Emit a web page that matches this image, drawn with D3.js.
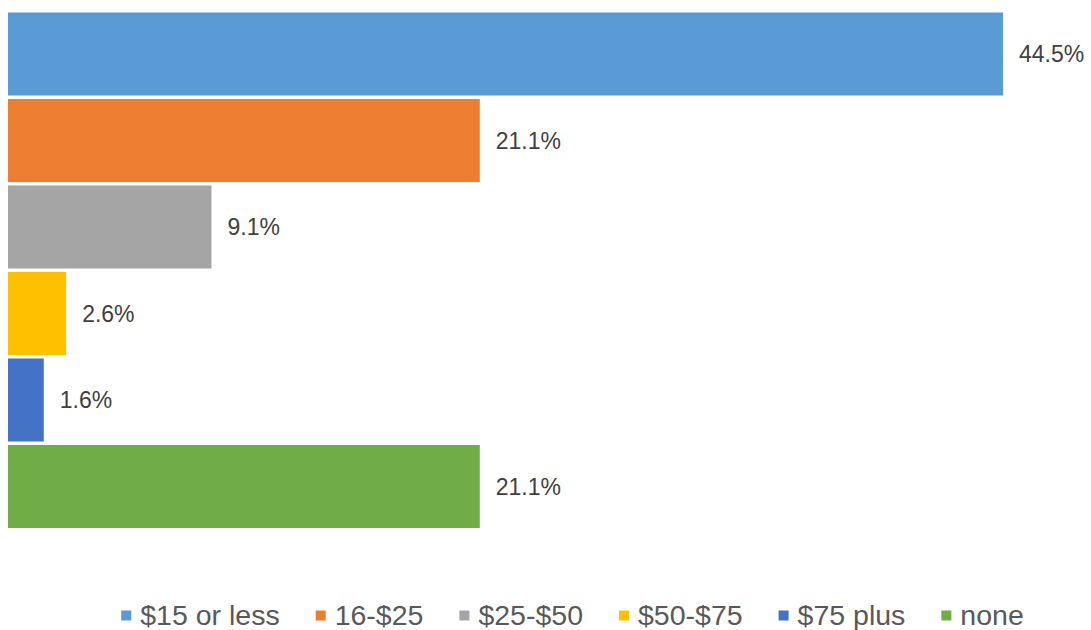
<!DOCTYPE html>
<html>
<head>
<meta charset="utf-8">
<script src="https://cdn.jsdelivr.net/npm/d3@7"></script>
<style>
html,body{margin:0;padding:0;background:#fff;}
svg{display:block;font-family:"Liberation Sans", Arial, Helvetica, sans-serif;}
</style>
</head>
<body>
<svg id="chart" width="1091" height="630"></svg>
<script>
const categories = ["$15 or less", "16-$25", "$25-$50", "$50-$75", "$75 plus", "none"];
const values = [44.5, 21.1, 9.1, 2.6, 1.6, 21.1];
const labels = ["44.5%", "21.1%", "9.1%", "2.6%", "1.6%", "21.1%"];
const colors = ["#5B9BD5", "#ED7D31", "#A5A5A5", "#FFC000", "#4472C4", "#70AD47"];

const svg = d3.select("#chart");

const x = d3.scaleLinear().domain([0, 44.5]).range([8, 1003]);
const y = d3.scaleBand().domain(categories).range([10.75, 529.75]).paddingInner(0.04).paddingOuter(0.02);

const data = categories.map((c, i) => ({c, v: values[i], l: labels[i], col: colors[i]}));

svg.append("g").selectAll("rect").data(data).join("rect")
  .attr("x", x(0))
  .attr("y", d => y(d.c))
  .attr("width", d => x(d.v) - x(0))
  .attr("height", y.bandwidth())
  .attr("fill", d => d.col);

svg.append("g").selectAll("text").data(data).join("text")
  .attr("x", d => x(d.v) + 16)
  .attr("y", d => y(d.c) + y.bandwidth() / 2)
  .attr("dy", "0.35em")
  .attr("font-size", 23)
  .attr("fill", "#404040")
  .text(d => d.l);

// Legend
const lg = svg.append("g");
const items = lg.selectAll("g").data(data).join("g");
items.append("rect").attr("width", 10).attr("height", 10).attr("y", 610.5).attr("fill", d => d.col);
items.append("text").attr("x", 19).attr("y", 625).attr("font-size", 28.5).attr("fill", "#595959").text(d => d.c);
let widths = [];
items.each(function(){ widths.push(this.getBBox().width); });
const gap = 36;
const total = d3.sum(widths) + gap * (widths.length - 1);
let cx = 572.5 - total / 2;
items.attr("transform", (d, i) => { const t = `translate(${cx},0)`; cx += widths[i] + gap; return t; });
</script>
</body>
</html>
